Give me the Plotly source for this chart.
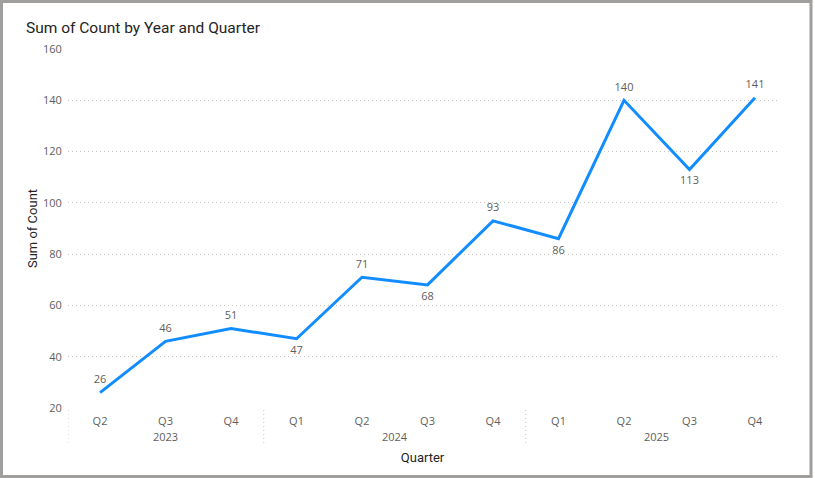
import plotly.graph_objects as go

years = ["2023", "2023", "2023", "2024", "2024", "2024", "2024", "2025", "2025", "2025", "2025"]
quarters = ["Q2", "Q3", "Q4", "Q1", "Q2", "Q3", "Q4", "Q1", "Q2", "Q3", "Q4"]
counts = [26, 46, 51, 47, 71, 68, 93, 86, 140, 113, 141]
label_pos = ["top center", "top center", "top center", "bottom center", "top center",
             "bottom center", "top center", "bottom center", "top center",
             "bottom center", "top center"]
y_ticks = [20, 40, 60, 80, 100, 120, 140, 160]

xs = list(range(len(counts)))

W, H = 815, 478
L, R, T, B = 68, 38, 49, 70
pw, ph = W - L - R, H - T - B

fig = go.Figure()
fig.add_trace(go.Scatter(
    x=xs, y=counts, mode="lines+markers+text",
    line=dict(color="#118DFF", width=3),
    marker=dict(size=9, color="rgba(0,0,0,0)"),
    text=[str(v) for v in counts], textposition=label_pos,
    textfont=dict(family="Segoe UI, Open Sans, sans-serif", size=11, color="#605E5C"),
    hoverinfo="skip", cliponaxis=False,
))

# year group labels and dividers
groups = []
for i, yv in enumerate(years):
    if not groups or groups[-1][0] != yv:
        groups.append([yv, i, i])
    else:
        groups[-1][2] = i

annotations = []
shapes = []
for g, (yv, i0, i1) in enumerate(groups):
    annotations.append(dict(
        x=(i0 + i1) / 2, y=(H - B - 436) / ph, xref="x", yref="paper",
        text=yv, showarrow=False, yanchor="middle",
        font=dict(family="Segoe UI, Open Sans, sans-serif", size=11, color="#605E5C"),
    ))
    shapes.append(dict(
        type="line", xref="x", yref="paper",
        x0=i0 - 0.5 if g > 0 else -0.489, x1=i0 - 0.5 if g > 0 else -0.489,
        y0=(H - B - 410) / ph, y1=(H - B - 445) / ph,
        line=dict(color="#C8C6C4", width=1, dash="1px,3px"),
    ))

# outer border
shapes.append(dict(
    type="rect", xref="paper", yref="paper",
    x0=(1.5 - L) / pw, x1=(811 - L) / pw,
    y0=(H - B - 476.5) / ph, y1=(H - B - 1.5) / ph,
    line=dict(color="#A19F9D", width=3), fillcolor="rgba(0,0,0,0)", layer="below",
))

fig.update_layout(
    width=W, height=H,
    margin=dict(l=L, r=R, t=T, b=B),
    paper_bgcolor="white", plot_bgcolor="white",
    showlegend=False,
    title=dict(text="Sum of Count by Year and Quarter", x=26 / W, xanchor="left",
               y=1 - 28 / H, yanchor="middle",
               font=dict(family="Roboto, sans-serif", size=15.5, color="#252423")),
    annotations=annotations,
    shapes=shapes,
)
fig.update_xaxes(
    range=[-0.489, 10.336], tickvals=xs, ticktext=quarters,
    showgrid=False, zeroline=False, showline=False,
    ticks="outside", ticklen=3, tickcolor="rgba(0,0,0,0)",
    tickfont=dict(family="Segoe UI, Open Sans, sans-serif", size=11, color="#605E5C"),
    title=dict(text="Quarter", standoff=25,
               font=dict(family="Roboto, sans-serif", size=13, color="#252423")),
)
fig.update_yaxes(
    range=[20, 160], tickvals=y_ticks,
    showgrid=True, gridcolor="#C8C6C4", griddash="1px,3px", gridwidth=1,
    zeroline=False, showline=False,
    ticks="outside", ticklen=3, tickcolor="rgba(0,0,0,0)",
    tickfont=dict(family="Segoe UI, Open Sans, sans-serif", size=11, color="#605E5C"),
    title=dict(text="Sum of Count", standoff=2,
               font=dict(family="Roboto, sans-serif", size=13, color="#252423")),
)

fig.write_html("out.html", config={"displayModeBar": False},
               post_script="document.body.style.margin='0';")
